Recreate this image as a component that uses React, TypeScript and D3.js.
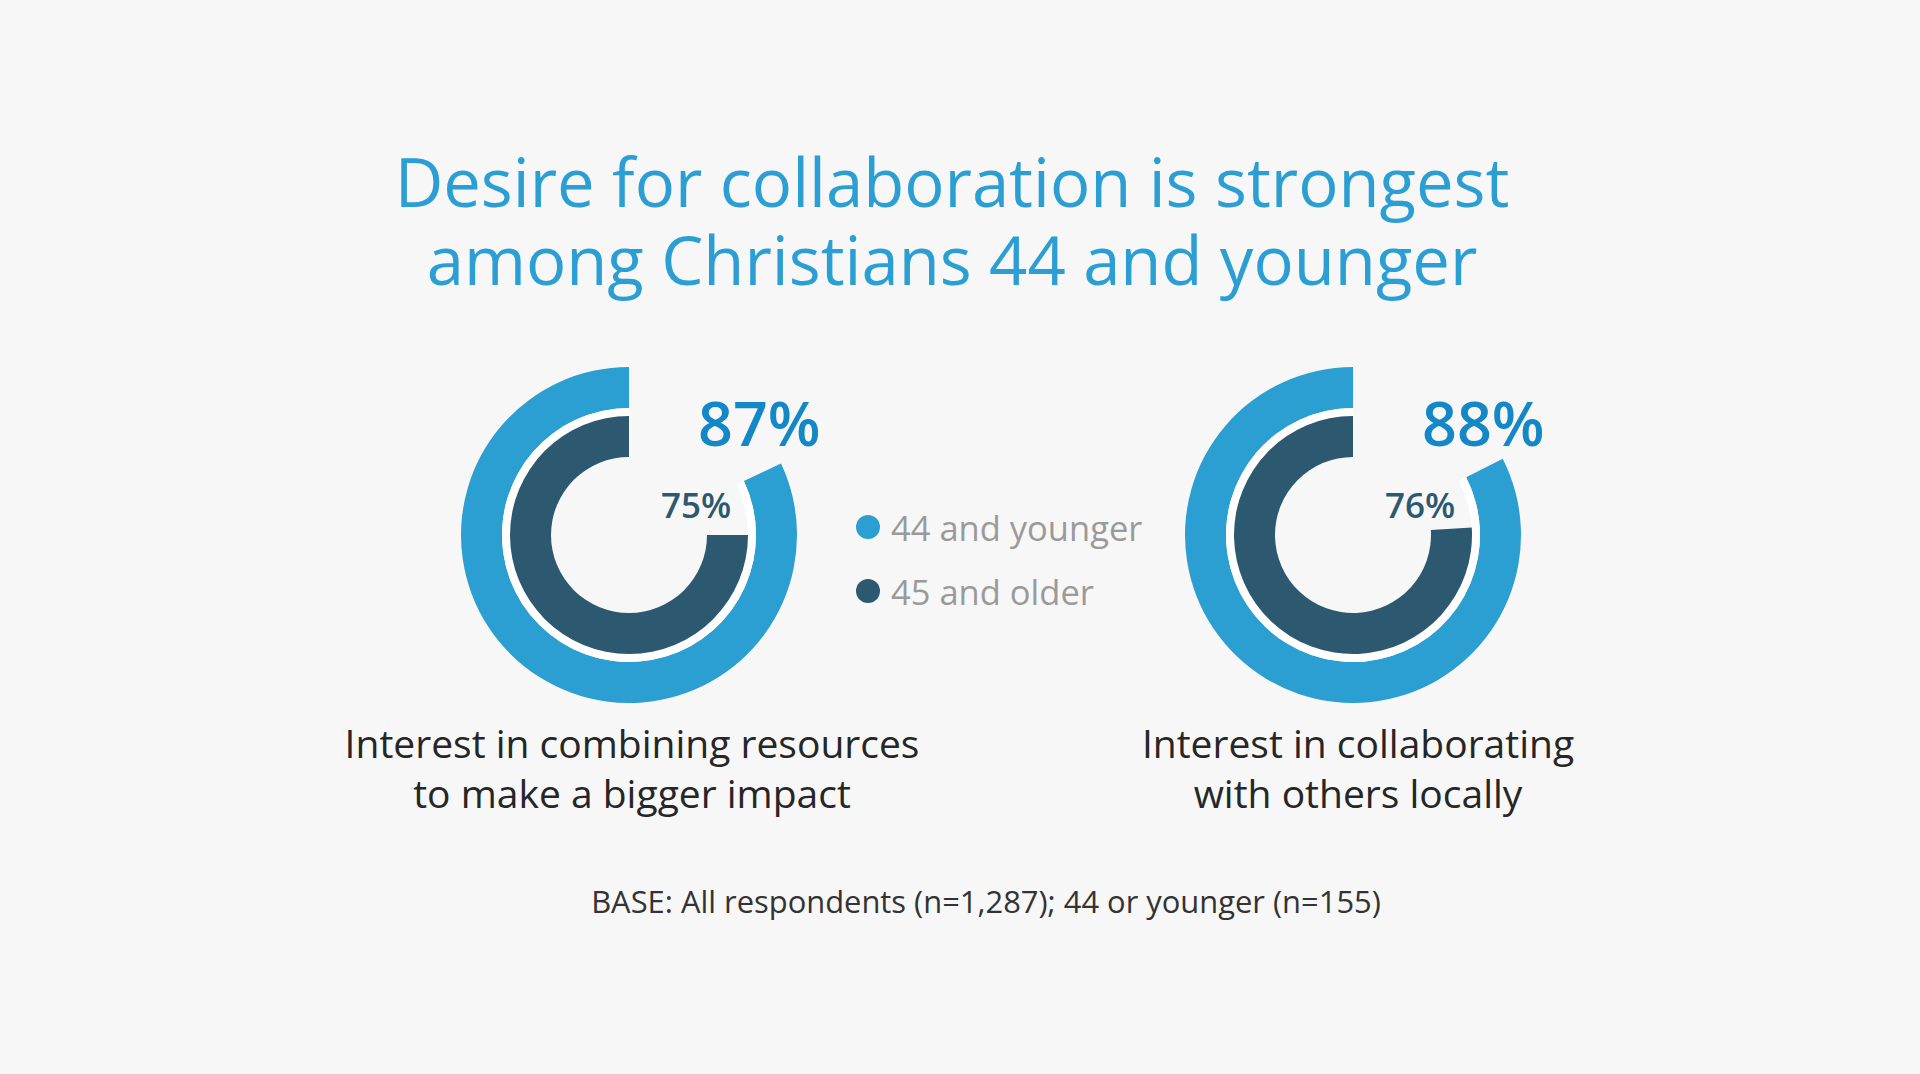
import { arc, scaleLinear, scalePoint } from "d3";

// survey values
const categories = ["combining", "collaborating"];
const labelLines = [
  ["Interest in combining resources", "to make a bigger impact"],
  ["Interest in collaborating", "with others locally"],
];
const younger = [87, 88];
const older = [75, 76];
// the outer rings in the picture stop short of the printed share
const youngerRing = [82, 82.5];
const seriesNames = ["44 and younger", "45 and older"];
const titleLines = ["Desire for collaboration is strongest", "among Christians 44 and younger"];
const baseNote = "BASE: All respondents (n=1,287); 44 or younger (n=155)";

const width = 1920;
const height = 1074;
const color = { younger: "#2b9fd1", older: "#2c5870", bg: "#f7f7f7" };
const font = "'Open Sans', Lato, sans-serif";
const noLig = { fontVariantLigatures: "none" } as const;

// ring radii
const rOuter = 168;
const rOuterIn = 127;
const rInner = 119;
const rInnerIn = 78;
const cy = 535;

const x = scalePoint<string>().domain(categories).range([629, 1353]);
const angle = scaleLinear().domain([0, 100]).range([0, 2 * Math.PI]);

const ringArc = (r0: number, r1: number, v: number) =>
  arc()({
    innerRadius: r0,
    outerRadius: r1,
    startAngle: 2 * Math.PI - angle(v),
    endAngle: 2 * Math.PI,
  }) as string;

export default function App() {
  return (
    <div style={{ position: "absolute", left: 0, top: 0 }}>
      <svg width={width} height={height} style={{ display: "block", background: color.bg }}>
        <rect width={width} height={height} fill={color.bg} />

        {/* title, one text block */}
        <text
          x={952}
          y={207}
          textAnchor="middle"
          fontFamily={font}
          fontSize={67}
          fill="#2b9fd3"
          style={noLig}
        >
          {titleLines.map((t, i) => (
            <tspan key={t} x={952} dy={i === 0 ? 0 : 78}>
              {t}
            </tspan>
          ))}
        </text>

        {/* donuts */}
        {categories.map((c, i) => (
          <g key={c} transform={`translate(${x(c)}, ${cy})`}>
            <path d={ringArc(rOuterIn, rOuter, youngerRing[i])} fill={color.younger} />
            <path d={ringArc(rInner, rOuterIn, youngerRing[i])} fill="#ffffff" />
            <path d={ringArc(rInnerIn, rInner, older[i])} fill={color.older} />
            <text
              x={69}
              y={-89}
              fontFamily={font}
              fontSize={61}
              fontWeight={560}
              fill="#1487c6"
            >
              {younger[i]}%
            </text>
            <text
              x={32}
              y={-17}
              fontFamily={font}
              fontSize={35}
              fontWeight={600}
              fill={color.older}
            >
              {older[i]}%
            </text>
            <text
              x={3 + i * 2}
              y={758 - cy}
              textAnchor="middle"
              fontFamily={font}
              fontSize={39}
              fill="#262626"
              style={noLig}
            >
              {labelLines[i].map((l, j) => (
                <tspan key={l} x={3 + i * 2} dy={j === 0 ? 0 : 50}>
                  {l}
                </tspan>
              ))}
            </text>
          </g>
        ))}

        {/* legend */}
        {seriesNames.map((s, i) => (
          <g key={s} transform={`translate(868, ${527 + i * 64})`}>
            <circle r={12} fill={i === 0 ? color.younger : color.older} />
            <text x={23} y={14} fontFamily={font} fontSize={34.5} fill="#9a9a9a">
              {s}
            </text>
          </g>
        ))}

        {/* base */}
        <text x={986} y={913} textAnchor="middle" fontFamily={font} fontSize={30.9} fill="#333333">
          {baseNote}
        </text>
      </svg>
    </div>
  );
}
